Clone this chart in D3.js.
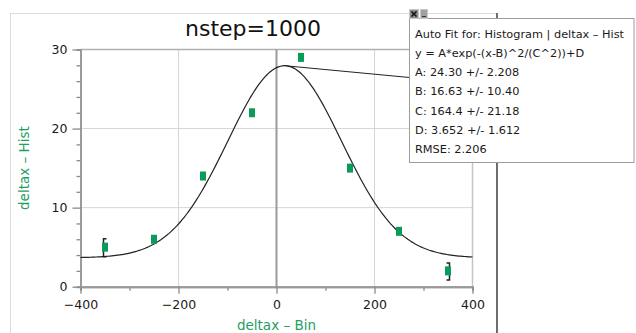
<!DOCTYPE html>
<html>
<head>
<meta charset="utf-8">
<script src="https://cdn.jsdelivr.net/npm/d3@7"></script>
<style>
  html, body { margin: 0; padding: 0; background: #ffffff; }
  svg { display: block; }
  text { font-family: "DejaVu Sans", sans-serif; }
</style>
</head>
<body>
<svg id="chart" width="636" height="333"></svg>
<script>
// ---- data ----
const binCenters = [-350, -250, -150, -50, 50, 150, 250, 350];
const histCounts = [5, 6, 14, 22, 29, 15, 7, 2];
const errBins = [-350, 350];
const errLow = [3.8, 0.85];
const errHigh = [6.05, 3.0];
const xTicks = [-400, -200, 0, 200, 400];
const xMinorTicks = [-300, -100, 100, 300];
const yTicks = [0, 10, 20, 30];
const yMinorTicks = [2, 4, 6, 8, 12, 14, 16, 18, 22, 24, 26, 28];
const fitA = 24.30, fitB = 16.63, fitC = 164.4, fitD = 3.652;
const fitLines = [
  "Auto Fit for: Histogram | deltax \u2013 Hist",
  "y = A*exp(-(x-B)^2/(C^2))+D",
  "A: 24.30 +/- 2.208",
  "B: 16.63 +/- 10.40",
  "C: 164.4 +/- 21.18",
  "D: 3.652 +/- 1.612",
  "RMSE: 2.206"
];
const titleText = "nstep=1000";
const xLabel = "deltax \u2013 Bin";
const yLabel = "deltax \u2013 Hist";

// ---- layout ----
const svg = d3.select("#chart");
const x = d3.scaleLinear().domain([-400, 400]).range([80.5, 472.5]);
const y = d3.scaleLinear().domain([0, 30]).range([286.7, 49.5]);
const green = "#0a9b5a";
const labelGreen = "#1f9e63";

// outer panel
svg.append("rect").attr("x", 10.5).attr("y", 13.5).attr("width", 486).attr("height", 330)
  .attr("fill", "#fff").attr("stroke", "#dcdcdc").attr("stroke-width", 1);
svg.append("line").attr("x1", 497).attr("x2", 497).attr("y1", 13).attr("y2", 333)
  .attr("stroke", "#6e6e6e").attr("stroke-width", 2);

// title
svg.append("text").attr("x", 253).attr("y", 36).attr("text-anchor", "middle")
  .attr("font-size", 22).attr("fill", "#111").text(titleText);

// grid
const g = svg.append("g");
g.selectAll(".vg").data([-200, 200]).join("line")
  .attr("x1", d => x(d)).attr("x2", d => x(d)).attr("y1", y(30)).attr("y2", y(0))
  .attr("stroke", "#d6d6d6").attr("stroke-width", 1);
g.selectAll(".hg").data([10, 20]).join("line")
  .attr("x1", x(-400)).attr("x2", x(400)).attr("y1", d => y(d)).attr("y2", d => y(d))
  .attr("stroke", "#d6d6d6").attr("stroke-width", 1);
// top and right frame
g.append("line").attr("x1", x(-400)).attr("x2", x(400)).attr("y1", y(30)).attr("y2", y(30))
  .attr("stroke", "#b0b0b0").attr("stroke-width", 1.5);
g.append("line").attr("x1", x(400)).attr("x2", x(400)).attr("y1", y(30)).attr("y2", y(0))
  .attr("stroke", "#c4c4c4").attr("stroke-width", 1.5);
// zero line
g.append("line").attr("x1", x(0)).attr("x2", x(0)).attr("y1", y(30)).attr("y2", y(0))
  .attr("stroke", "#9a9a9a").attr("stroke-width", 2);

// axes
function styleAxis(sel) {
  sel.select(".domain").attr("stroke", "#9a9a9a").attr("stroke-width", 2);
  sel.selectAll(".tick line").attr("stroke", "#8a8a8a").attr("stroke-width", 1.3);
  sel.selectAll(".tick text").attr("fill", "#1a1a1a").attr("font-size", 12.5)
    .attr("font-family", "DejaVu Sans, sans-serif");
}
const yAxisMinor = svg.append("g").attr("transform", `translate(${x(-400)},0)`)
  .call(d3.axisLeft(y).tickValues(yMinorTicks).tickSize(4).tickFormat(""));
styleAxis(yAxisMinor);
const yAxis = svg.append("g").attr("transform", `translate(${x(-400)},0)`)
  .call(d3.axisLeft(y).tickValues(yTicks).tickSize(8).tickPadding(5).tickSizeOuter(0));
styleAxis(yAxis);
const xAxisMinor = svg.append("g").attr("transform", `translate(0,${y(0)})`)
  .call(d3.axisBottom(x).tickValues(xMinorTicks).tickSize(4).tickFormat(""));
styleAxis(xAxisMinor);
const xAxis = svg.append("g").attr("transform", `translate(0,${y(0)})`)
  .call(d3.axisBottom(x).tickValues(xTicks).tickSize(7).tickPadding(6).tickSizeOuter(0));
styleAxis(xAxis);

// axis labels
svg.append("text").attr("x", 276.5).attr("y", 330).attr("text-anchor", "middle")
  .attr("font-size", 13.5).attr("fill", labelGreen).text(xLabel);
svg.append("text").attr("transform", `translate(29,${(y(0) + y(30)) / 2}) rotate(-90)`)
  .attr("text-anchor", "middle").attr("font-size", 13.5).attr("fill", labelGreen).text(yLabel);

// fit curve
const fit = v => fitA * Math.exp(-((v - fitB) ** 2) / (fitC ** 2)) + fitD;
const xs = d3.range(-400, 400.5, 4);
svg.append("path").datum(xs)
  .attr("d", d3.line().x(d => x(d)).y(d => y(fit(d))))
  .attr("fill", "none").attr("stroke", "#222").attr("stroke-width", 1.2);

// error brackets
const eb = svg.append("g");
errBins.forEach((b, i) => {
  const dir = b < 0 ? 1 : -1;
  const xx = x(b) + (b < 0 ? -1.5 : 1.5);
  const p = d3.path();
  p.moveTo(xx + dir * 3, y(errHigh[i]));
  p.lineTo(xx, y(errHigh[i]));
  p.lineTo(xx, y(errLow[i]));
  p.lineTo(xx + dir * 3, y(errLow[i]));
  eb.append("path").attr("d", p.toString()).attr("fill", "none")
    .attr("stroke", "#222").attr("stroke-width", 1.5);
});

// markers
svg.selectAll(".pt").data(binCenters).join("rect")
  .attr("x", (d) => x(d) - 3).attr("y", (d, i) => y(histCounts[i]) - 4.5)
  .attr("width", 6).attr("height", 9).attr("fill", green);

// leader line
svg.append("line").attr("x1", x(fitB)).attr("y1", y(fitA + fitD))
  .attr("x2", 409.5).attr("y2", 77.5).attr("stroke", "#222").attr("stroke-width", 1);

// popup
const pop = svg.append("g");
pop.append("rect").attr("x", 409.5).attr("y", 18.5).attr("width", 224.5).attr("height", 144)
  .attr("fill", "#fff").attr("stroke", "#9c9c9c").attr("stroke-width", 1);
pop.selectAll("text").data(fitLines).join("text")
  .attr("x", 415).attr("y", (d, i) => 37.5 + i * 19.3)
  .attr("font-size", 11.3).attr("fill", "#1a1a1a").text(d => d);
// buttons
pop.append("rect").attr("x", 409.5).attr("y", 9.5).attr("width", 9).attr("height", 9)
  .attr("fill", "#8c8c8c").attr("stroke", "#c8c8c8").attr("stroke-width", 1);
pop.append("path").attr("d", "M411.5,11.5 L416.5,16.5 M416.5,11.5 L411.5,16.5")
  .attr("stroke", "#111").attr("stroke-width", 1.5);
pop.append("rect").attr("x", 420.5).attr("y", 9.5).attr("width", 7).attr("height", 9)
  .attr("fill", "#a0a0a0").attr("stroke", "#c8c8c8").attr("stroke-width", 1);
pop.append("line").attr("x1", 422).attr("x2", 426).attr("y1", 16.5).attr("y2", 16.5)
  .attr("stroke", "#333").attr("stroke-width", 1);
</script>
</body>
</html>
